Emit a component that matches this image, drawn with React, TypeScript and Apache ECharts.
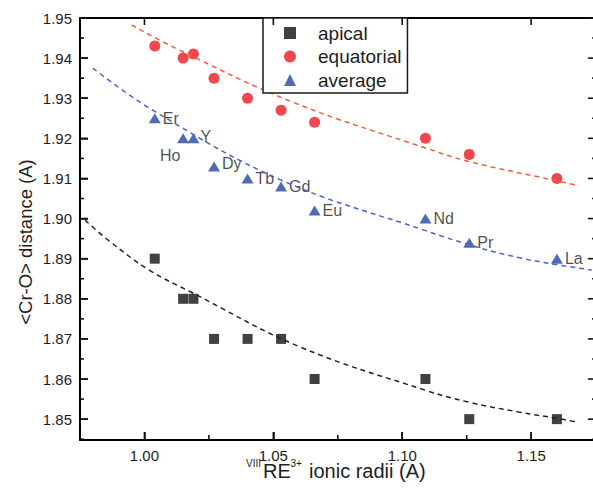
import React, { useEffect, useRef } from "react";
import * as echarts from "echarts";

// ---- data ----
const radii = [1.004, 1.015, 1.019, 1.027, 1.040, 1.053, 1.066, 1.109, 1.126, 1.160];
const elements = ["Er", "Ho", "Y", "Dy", "Tb", "Gd", "Eu", "Nd", "Pr", "La"];
const apical = [1.890, 1.880, 1.880, 1.870, 1.870, 1.870, 1.860, 1.860, 1.850, 1.850];
const equatorial = [1.943, 1.940, 1.941, 1.935, 1.930, 1.927, 1.924, 1.920, 1.916, 1.910];
const average = [1.925, 1.920, 1.920, 1.913, 1.910, 1.908, 1.902, 1.900, 1.894, 1.890];

// dashed trend curves
const eqFitX = [0.995, 1.012, 1.058, 1.109, 1.126, 1.160, 1.1685];
const eqFitY = [1.9483, 1.9425, 1.9289, 1.9176, 1.9142, 1.9094, 1.9082];
const avgFitX = [0.980, 1.003, 1.053, 1.109, 1.130, 1.145, 1.160, 1.1735];
const avgFitY = [1.9375, 1.9271, 1.9096, 1.8970, 1.8927, 1.8903, 1.8885, 1.8872];
const apFitX = [0.977, 0.986, 1.002, 1.018, 1.060, 1.109, 1.126, 1.145, 1.160, 1.1685];
const apFitY = [1.8996, 1.8946, 1.8871, 1.8817, 1.8681, 1.8572, 1.8542, 1.8518, 1.8502, 1.8492];

// axis ticks
const xMajor = [1.0, 1.05, 1.1, 1.15];
const xMinor = [1.025, 1.075, 1.125];
const yMajor = [1.85, 1.86, 1.87, 1.88, 1.89, 1.9, 1.91, 1.92, 1.93, 1.94, 1.95];
const yMinor = [1.845, 1.855, 1.865, 1.875, 1.885, 1.895, 1.905, 1.915, 1.925, 1.935, 1.945];
const xRange = [0.975, 1.174];
const xFrameEnd = 1.1752; // right frame of the original plot lies just outside the picture
const yRange = [1.8448, 1.95];

const legendNames = ["apical", "equatorial", "average"];

const FONT = "'Liberation Sans', Arial, Helvetica, sans-serif";
const AXIS_COLOR = "#000000";
const TICK_COLOR = "#111111";
const TEXT_COLOR = "#1e1e1e";

const pairs = (xs: number[], ys: number[]) => xs.map((x, i) => [x, ys[i]]);

// one custom series per tick set and side; each item is a single line placed via the axis scales
function xTicks(values: number[], atY: number, len: number) {
  return {
    type: "custom",
    z: 10,
    data: values.map((v) => [v, atY]),
    renderItem: (_p: any, api: any) => {
      const c = api.coord([api.value(0), api.value(1)]);
      return {
        type: "line",
        shape: { x1: c[0], y1: c[1], x2: c[0], y2: c[1] + len },
        style: { stroke: TICK_COLOR, lineWidth: 1.6 },
      };
    },
  };
}

function yTicks(values: number[], atX: number, len: number) {
  return {
    type: "custom",
    z: 10,
    data: values.map((v) => [atX, v]),
    renderItem: (_p: any, api: any) => {
      const c = api.coord([api.value(0), api.value(1)]);
      return {
        type: "line",
        shape: { x1: c[0], y1: c[1], x2: c[0] + len, y2: c[1] },
        style: { stroke: TICK_COLOR, lineWidth: 1.6 },
      };
    },
  };
}

function buildOption() {
  const avgLabelCfg: Record<string, any> = {
    Ho: { position: "bottom", distance: 4, offset: [-13, 0] },
    Dy: { position: "right", distance: 2, offset: [0, -3] },
    Y: { position: "right", distance: 1, offset: [0, -2] },
  };
  return {
    animation: false,
    grid: { left: 80, top: 18, width: 513, height: 422 },
    xAxis: [
      {
        type: "value", position: "bottom", min: xRange[0], max: xRange[1],
        axisLine: { show: true, lineStyle: { color: AXIS_COLOR, width: 2 } },
        splitLine: { show: false },
        axisTick: { show: true, inside: true, length: 8, customValues: xMajor, lineStyle: { color: "#101010", width: 1.5 } },
        axisLabel: {
          show: true, customValues: xMajor, margin: 9, lineHeight: 12,
          formatter: (val: number) => val.toFixed(2),
          fontSize: 15, fontFamily: FONT, color: TEXT_COLOR,
        },
      },
      {
        type: "value", position: "top", min: xRange[0], max: xRange[1], splitLine: { show: false },
        axisLine: { show: true, lineStyle: { color: "#050505", width: 2 } },
        axisTick: { show: false }, axisLabel: { show: false },
      },
    ],
    yAxis: [
      {
        type: "value", position: "left", min: yRange[0], max: yRange[1],
        axisLine: { show: true, lineStyle: { color: AXIS_COLOR, width: 2 } },
        splitLine: { show: false },
        axisTick: { show: true, inside: true, length: 8, customValues: yMajor, lineStyle: { color: "#101010", width: 1.5 } },
        axisLabel: {
          show: true, customValues: yMajor, margin: 8,
          formatter: (val: number) => val.toFixed(2),
          fontSize: 15, fontFamily: FONT, color: TEXT_COLOR,
        },
      },
    ],
    legend: {
      data: legendNames, orient: "vertical", left: 263, top: 18,
      padding: [5, 6, 3, 21], itemGap: 3.5, itemWidth: 12, itemHeight: 12,
      borderColor: "#1a1a1a", borderWidth: 1.5, backgroundColor: "#ffffff",
      textStyle: { fontSize: 19, fontFamily: FONT, color: TEXT_COLOR, lineHeight: 20, padding: [0, 0, 0, 17] },
      selectedMode: false,
    },
    graphic: [
      {
        type: "text", x: 25, y: 242, rotation: Math.PI / 2,
        style: {
          text: "<Cr-O> distance (A)", fontSize: 18.5, fontFamily: FONT, fill: TEXT_COLOR,
          textAlign: "center", textVerticalAlign: "middle",
        },
      },
      { type: "text", x: 246, y: 463, style: { text: "VIII", textAlign: "left", fontSize: 10, fontFamily: FONT, fill: TEXT_COLOR, textVerticalAlign: "middle", lineHeight: 9 } },
      { type: "text", x: 263, y: 471, style: { text: "RE", textAlign: "left", fontSize: 20, fontFamily: FONT, fill: TEXT_COLOR, textVerticalAlign: "middle", lineHeight: 16 } },
      { type: "text", x: 290.5, y: 463, style: { text: "3+", textAlign: "left", fontSize: 10, fontFamily: FONT, fill: TEXT_COLOR, textVerticalAlign: "middle", lineHeight: 9 } },
      { type: "text", x: 309, y: 471, style: { text: "ionic radii (A)", textAlign: "left", fontSize: 20, fontFamily: FONT, fill: TEXT_COLOR, textVerticalAlign: "middle", lineHeight: 16 } },
    ],
    series: [
      {
        name: "apical fit", type: "line", data: pairs(apFitX, apFitY), smooth: 0.4, showSymbol: false, silent: true,
        lineStyle: { color: "#222222", width: 1.5, type: [5, 4] },
      },
      {
        name: "equatorial fit", type: "line", data: pairs(eqFitX, eqFitY), smooth: 0.4, showSymbol: false, silent: true,
        lineStyle: { color: "#f0603c", width: 1.5, type: [5, 4] },
      },
      {
        name: "average fit", type: "line", data: pairs(avgFitX, avgFitY), smooth: 0.4, showSymbol: false, silent: true,
        lineStyle: { color: "#4a64c8", width: 1.5, type: [5, 4] },
      },
      {
        name: "apical", type: "scatter", symbol: "rect", symbolSize: 10,
        itemStyle: { color: "#111111" }, data: pairs(radii, apical),
      },
      {
        name: "equatorial", type: "scatter", symbol: "circle", symbolSize: 11,
        itemStyle: { color: "#ea1a22" }, data: pairs(radii, equatorial),
      },
      {
        name: "average", type: "scatter", symbol: "triangle", symbolSize: [12, 10],
        itemStyle: { color: "#23479f" },
        label: { show: true, position: "right", distance: 2, fontSize: 16, fontFamily: FONT, color: TEXT_COLOR },
        data: radii.map((x, i) => ({
          value: [x, average[i]],
          label: { formatter: elements[i], ...(avgLabelCfg[elements[i]] || {}) },
        })),
      },
      xTicks(xMajor, yRange[0], -8),
      xTicks(xMinor, yRange[0], -5),
      xTicks(xMajor, yRange[1], 7),
      yTicks(yMajor, xRange[0], 8),
      yTicks(yMinor, xRange[0], 4),
      yTicks(yMajor, xFrameEnd, -8),
      yTicks(yMinor, xFrameEnd, -4),
    ],
  };
}

export default function App() {
  const ref = useRef<HTMLDivElement>(null);
  useEffect(() => {
    if (!ref.current) return;
    const chart = echarts.init(ref.current, null, { renderer: "svg" });
    chart.setOption(buildOption() as any);
    return () => chart.dispose();
  }, []);
  return (
    <div style={{ position: "absolute", left: 0, top: 0, width: 593, height: 497, background: "#fff" }}>
      <div ref={ref} style={{ width: 593, height: 497 }} />
    </div>
  );
}
